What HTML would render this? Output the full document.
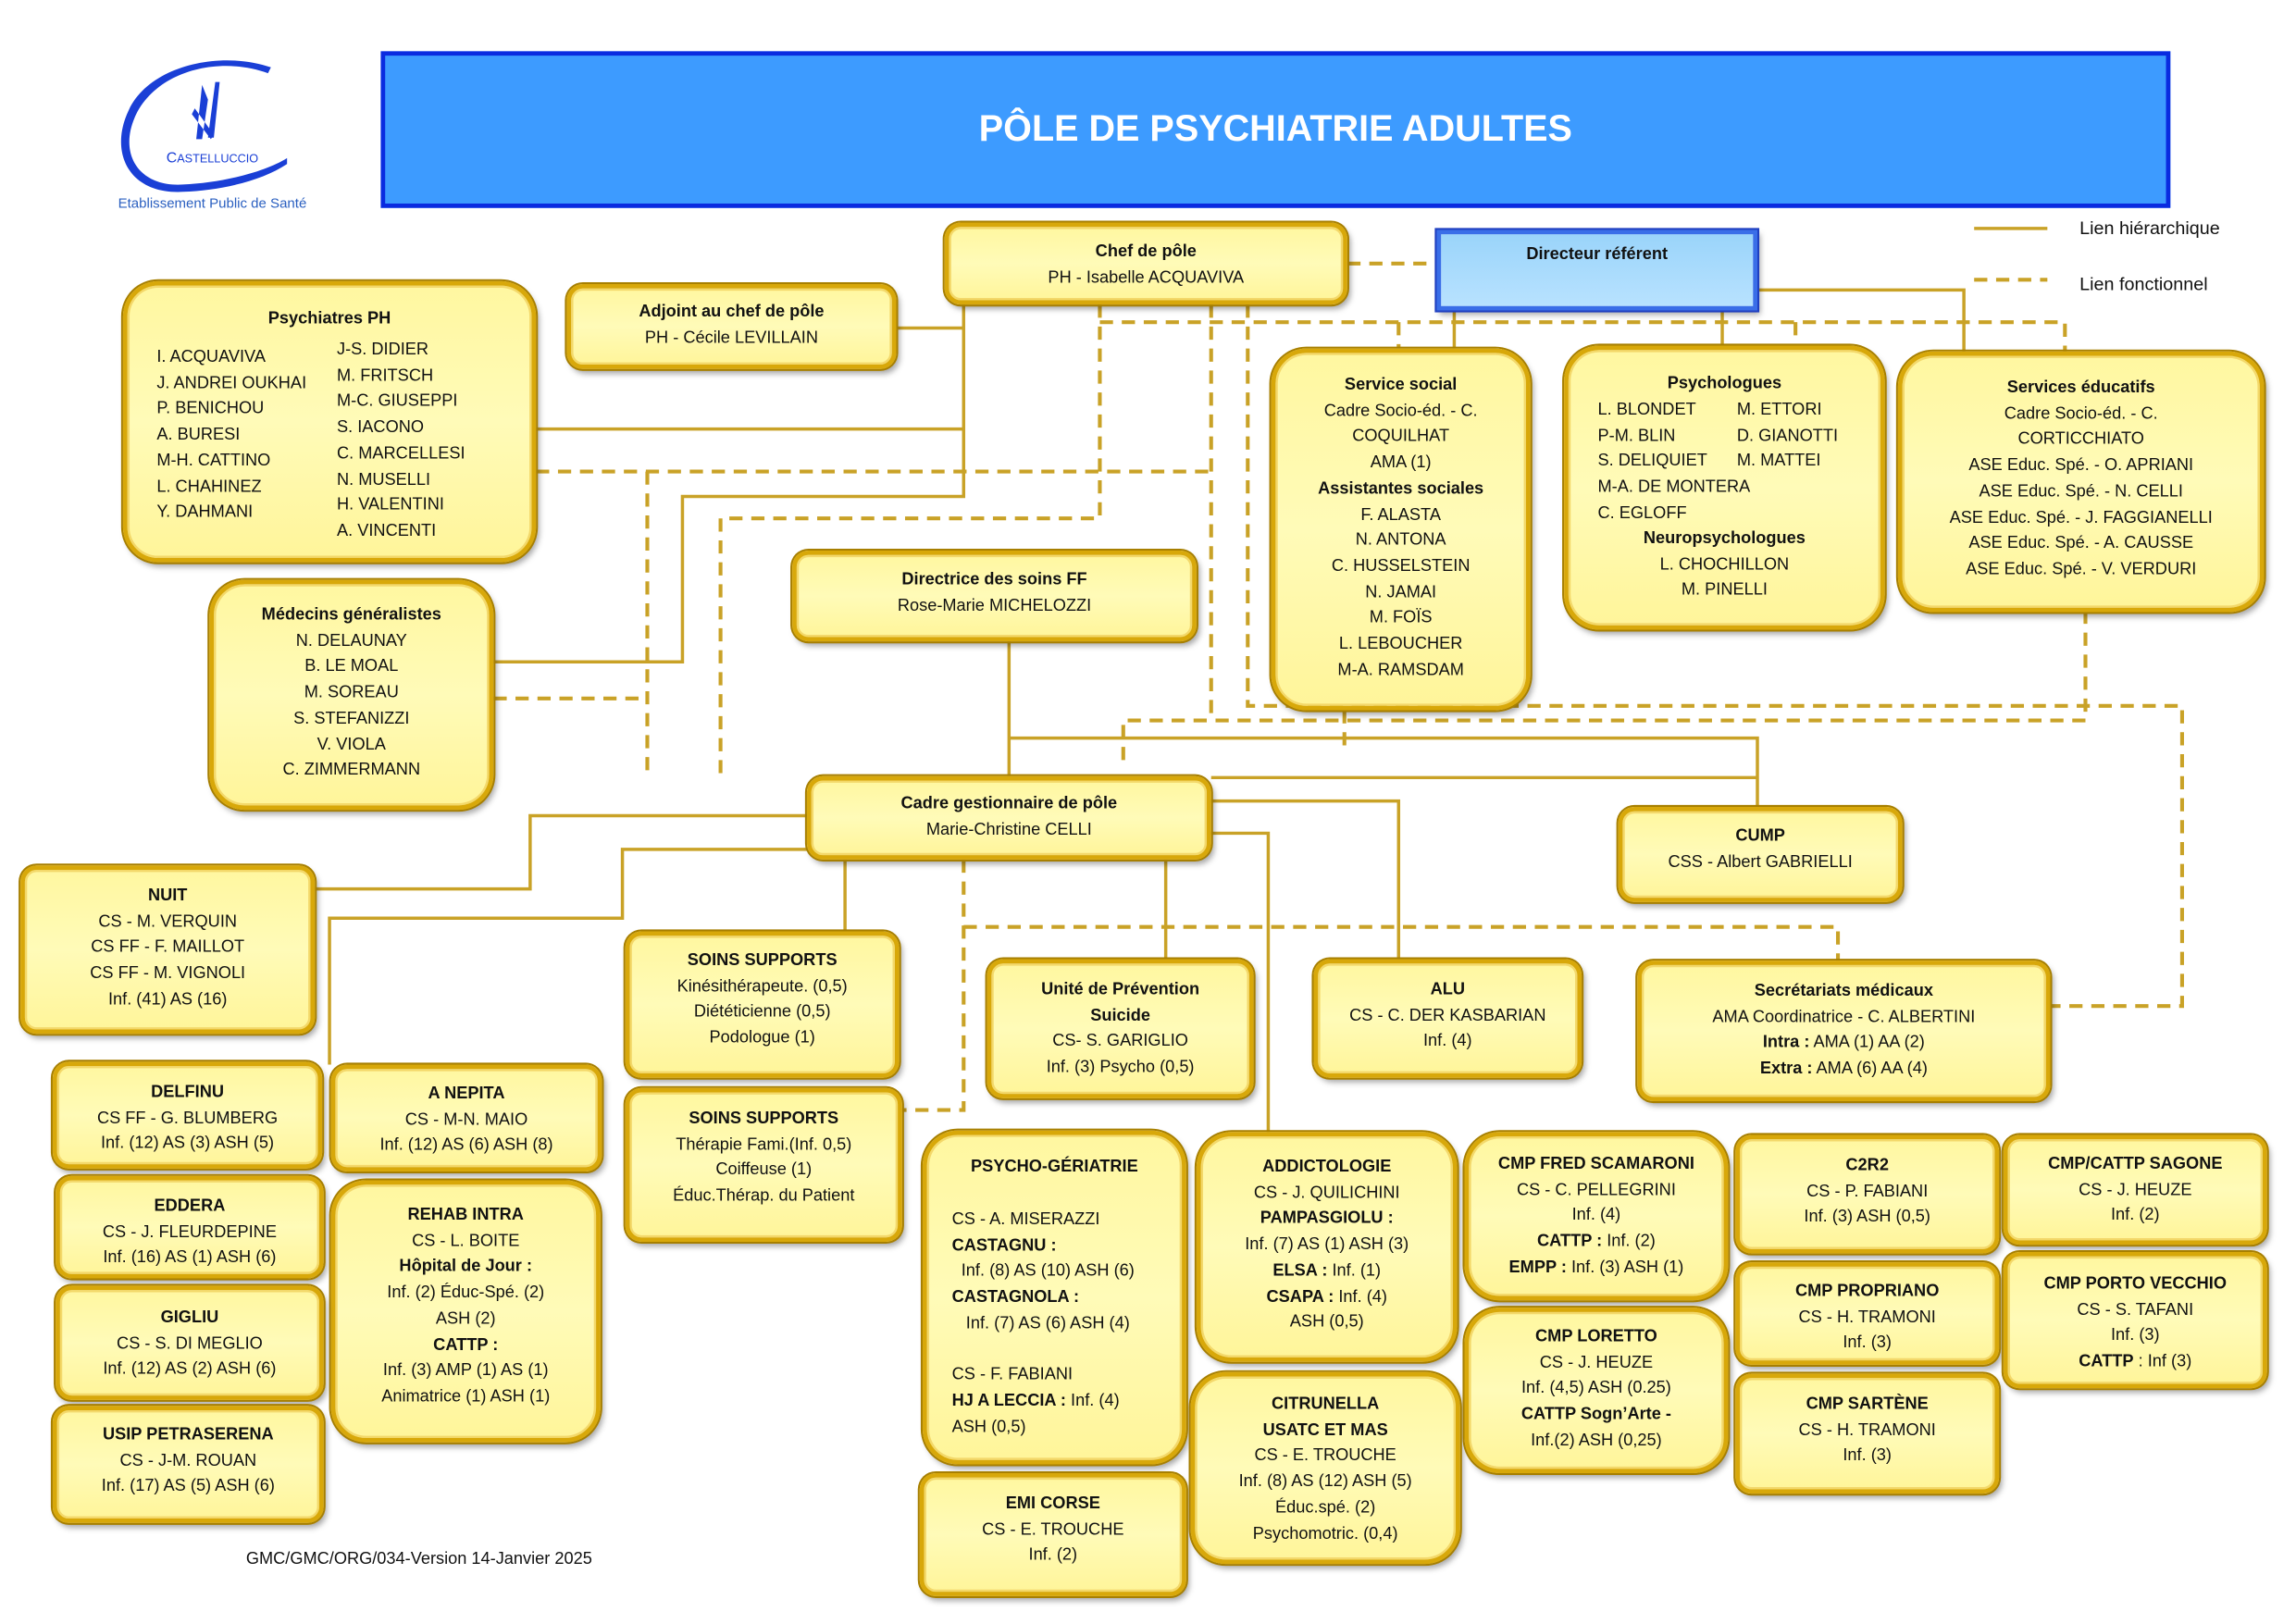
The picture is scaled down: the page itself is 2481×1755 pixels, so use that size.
<!DOCTYPE html>
<html><head><meta charset="utf-8"><style>
html,body{margin:0;padding:0;background:#fff;}
body{width:2481px;height:1755px;overflow:hidden;position:relative;}
#c{position:absolute;left:0;top:0;width:1560px;height:1103px;transform-origin:0 0;transform:scale(1.5825,1.5825);font-family:"Liberation Sans",sans-serif;font-size:11.5px;color:#111;}
.b{position:absolute;box-sizing:border-box;background:linear-gradient(#fff7a0,#fffbb8 50%,#fff59a);border:3px solid #d8a80a;box-shadow:0 0 0 1.3px #a77f00,inset 0 0 0 1.5px #f3d86a,2px 3px 4px rgba(0,0,0,.35);border-radius:11px;text-align:center;line-height:17.7px;white-space:nowrap;}
.r{border-radius:24px;}
.t{font-weight:bold;}
.l{text-align:left;}
svg{position:absolute;left:0;top:0;}
</style></head><body><div id="c">
<svg width="1560" height="1103" viewBox="0 0 1560 1103">
<g fill="none" stroke="#c9a227" stroke-width="2.2">
<path d="M658 208V339H466V452H337"/>
<path d="M612 224H658"/>
<path d="M366 293H658"/>
<path d="M993 212V238"/>
<path d="M1176 212V236"/>
<path d="M1200 198H1341V240"/>
<path d="M689 438V530"/>
<path d="M689 504H1200V551"/>
<path d="M827 531H1200"/>
<path d="M827 547H955V655"/>
<path d="M827 569H866V773"/>
<path d="M796 587V655"/>
<path d="M577 587V636"/>
<path d="M551 557H362V607H215"/>
<path d="M551 580H425V627H225V727"/>
<path d="M1348 156H1398"/>
</g>
<g fill="none" stroke="#c9a227" stroke-width="2.6" stroke-dasharray="9 6">
<path d="M920 180H981"/>
<path d="M366 322H827"/>
<path d="M827 208V492"/>
<path d="M767 519V492H1424V418"/>
<path d="M442 322V527"/>
<path d="M337 477H442"/>
<path d="M751 208V354H492V529"/>
<path d="M751 220H1410V240"/>
<path d="M955 220V238"/>
<path d="M1226 220V236"/>
<path d="M852 208V482H1490V687H1400"/>
<path d="M918 485V512"/>
<path d="M658 587V758H616"/>
<path d="M658 633H1255V656"/>
<path d="M1348 191H1398"/>
</g>
<path d="M183 50 C150 38 108 48 93 78 C80 105 95 128 125 126 C150 125 180 118 196 108 L196 112 C178 124 150 130 125 131 C88 133 74 104 88 75 C102 45 150 34 185 46 Z" fill="#1a3fd6"/>
<path d="M138 58 L134 95 L138 95 L142 68 Z M147 56 L150 56 L146 94 L142 94 Z M133 74 L146 92 L144 95 L131 78 Z" fill="#1a3fd6"/>
<text x="145" y="111" font-family="Liberation Sans,sans-serif" font-size="10" fill="#1a3fd6" text-anchor="middle">C<tspan font-size="8">ASTELLUCCIO</tspan></text>
<text x="145" y="142" font-family="Liberation Sans,sans-serif" font-size="9.5" fill="#2a5fc0" text-anchor="middle">Etablissement Public de Santé</text>
<text x="1420" y="160" font-family="Liberation Sans,sans-serif" font-size="12.5" fill="#111">Lien hiérarchique</text>
<text x="1420" y="198" font-family="Liberation Sans,sans-serif" font-size="12.5" fill="#111">Lien fonctionnel</text>
<text x="168" y="1068" font-family="Liberation Sans,sans-serif" font-size="11.5" fill="#111">GMC/GMC/ORG/034-Version 14-Janvier 2025</text>
</svg>

<div style="position:absolute;left:260px;top:35px;width:1222px;height:107px;box-sizing:border-box;background:#3d9bff;border:3px solid #0a2be0;color:#fff;font-weight:bold;font-size:25px;text-align:center;line-height:101px;">PÔLE DE PSYCHIATRIE ADULTES</div>

<div class="b" style="left:645px;top:152px;width:275px;height:56px;padding-top:9px"><span class="t">Chef de pôle</span><br>PH - Isabelle ACQUAVIVA</div>
<div class="b" style="left:981px;top:157px;width:219px;height:55px;padding-top:6px;border-radius:0;background:linear-gradient(#9ad4fa,#b8e2ff);border-color:#3a6ee8;box-shadow:0 0 0 1.3px #1f3fc0,2px 3px 4px rgba(0,0,0,.35)"><span class="t">Directeur référent</span></div>
<div class="b" style="left:387px;top:194px;width:225px;height:58px;padding-top:8px"><span class="t">Adjoint au chef de pôle</span><br>PH - Cécile LEVILLAIN</div>

<div class="b r" style="left:84px;top:192px;width:282px;height:192px;padding-top:15px"><span class="t">Psychiatres PH</span>
<div class="l" style="position:absolute;left:20px;top:41px">I. ACQUAVIVA<br>J. ANDREI OUKHAI<br>P. BENICHOU<br>A. BURESI<br>M-H. CATTINO<br>L. CHAHINEZ<br>Y. DAHMANI</div>
<div class="l" style="position:absolute;left:143px;top:36px">J-S. DIDIER<br>M. FRITSCH<br>M-C. GIUSEPPI<br>S. IACONO<br>C. MARCELLESI<br>N. MUSELLI<br>H. VALENTINI<br>A. VINCENTI</div></div>

<div class="b r" style="left:143px;top:396px;width:194px;height:157px;padding-top:13px"><span class="t">Médecins généralistes</span><br>N. DELAUNAY<br>B. LE MOAL<br>M. SOREAU<br>S. STEFANIZZI<br>V. VIOLA<br>C. ZIMMERMANN</div>

<div class="b" style="left:541px;top:376px;width:276px;height:62px;padding-top:9px"><span class="t">Directrice des soins FF</span><br>Rose-Marie MICHELOZZI</div>

<div class="b r" style="left:868px;top:238px;width:177px;height:247px;padding-top:14px"><span class="t">Service social</span><br>Cadre Socio-éd. - C.<br>COQUILHAT<br>AMA (1)<br><span class="t">Assistantes sociales</span><br>F. ALASTA<br>N. ANTONA<br>C. HUSSELSTEIN<br>N. JAMAI<br>M. FOÏS<br>L. LEBOUCHER<br>M-A. RAMSDAM</div>

<div class="b r" style="left:1068px;top:236px;width:219px;height:194px;padding-top:15px"><span class="t">Psychologues</span>
<div class="l" style="position:absolute;left:20px;top:33px">L. BLONDET<br>P-M. BLIN<br>S. DELIQUIET<br>M-A. DE MONTERA<br>C. EGLOFF</div>
<div class="l" style="position:absolute;left:115px;top:33px">M. ETTORI<br>D. GIANOTTI<br>M. MATTEI</div>
<div style="position:absolute;left:0;right:0;top:121px"><span class="t">Neuropsychologues</span><br>L. CHOCHILLON<br>M. PINELLI</div></div>

<div class="b r" style="left:1296px;top:240px;width:250px;height:178px;padding-top:14px"><span class="t">Services éducatifs</span><br>Cadre Socio-éd. - C.<br>CORTICCHIATO<br>ASE Educ. Spé. - O. APRIANI<br>ASE Educ. Spé. - N. CELLI<br>ASE Educ. Spé. - J. FAGGIANELLI<br>ASE Educ. Spé. - A. CAUSSE<br>ASE Educ. Spé. - V. VERDURI</div>

<div class="b" style="left:551px;top:530px;width:276px;height:57px;padding-top:8px"><span class="t">Cadre gestionnaire de pôle</span><br>Marie-Christine CELLI</div>
<div class="b" style="left:1105px;top:551px;width:194px;height:65px;padding-top:9px"><span class="t">CUMP</span><br>CSS - Albert GABRIELLI</div>

<div class="b" style="left:14px;top:591px;width:201px;height:115px;padding-top:10px"><span class="t">NUIT</span><br>CS - M. VERQUIN<br>CS FF - F. MAILLOT<br>CS FF - M. VIGNOLI<br>Inf. (41) AS (16)</div>
<div class="b" style="left:427px;top:636px;width:187px;height:100px;padding-top:9px"><span class="t">SOINS SUPPORTS</span><br>Kinésithérapeute. (0,5)<br>Diététicienne (0,5)<br>Podologue (1)</div>
<div class="b" style="left:674px;top:655px;width:182px;height:95px;padding-top:10px"><span class="t">Unité de Prévention<br>Suicide</span><br>CS- S. GARIGLIO<br>Inf. (3) Psycho (0,5)</div>
<div class="b" style="left:897px;top:655px;width:183px;height:81px;padding-top:10px"><span class="t">ALU</span><br>CS - C. DER KASBARIAN<br>Inf. (4)</div>
<div class="b" style="left:1118px;top:656px;width:282px;height:96px;padding-top:10px"><span class="t">Secrétariats médicaux</span><br>AMA Coordinatrice - C. ALBERTINI<br><span class="t">Intra :</span> AMA (1) AA (2)<br><span class="t">Extra :</span> AMA (6) AA (4)</div>

<div class="b" style="left:36px;top:725px;width:184px;height:73px;padding-top:10px"><span class="t">DELFINU</span><br>CS FF - G. BLUMBERG<br>Inf. (12) AS (3) ASH (5)</div>
<div class="b" style="left:226px;top:727px;width:185px;height:73px;padding-top:9px"><span class="t">A NEPITA</span><br>CS - M-N. MAIO<br>Inf. (12) AS (6) ASH (8)</div>
<div class="b" style="left:427px;top:743px;width:189px;height:105px;padding-top:10px"><span class="t">SOINS SUPPORTS</span><br>Thérapie Fami.(Inf. 0,5)<br>Coiffeuse (1)<br>Éduc.Thérap. du Patient</div>
<div class="b" style="left:38px;top:803px;width:183px;height:70px;padding-top:10px"><span class="t">EDDERA</span><br>CS - J. FLEURDEPINE<br>Inf. (16) AS (1) ASH (6)</div>
<div class="b r" style="left:226px;top:806px;width:184px;height:179px;padding-top:13px"><span class="t">REHAB INTRA</span><br>CS - L. BOITE<br><span class="t">Hôpital de Jour :</span><br>Inf. (2) Éduc-Spé. (2)<br>ASH (2)<br><span class="t">CATTP :</span><br>Inf. (3) AMP (1) AS (1)<br>Animatrice (1) ASH (1)</div>
<div class="b" style="left:38px;top:878px;width:183px;height:78px;padding-top:11px"><span class="t">GIGLIU</span><br>CS - S. DI MEGLIO<br>Inf. (12) AS (2) ASH (6)</div>
<div class="b" style="left:36px;top:960px;width:185px;height:80px;padding-top:9px"><span class="t">USIP PETRASERENA</span><br>CS - J-M. ROUAN<br>Inf. (17) AS (5) ASH (6)</div>

<div class="b r" style="left:630px;top:772px;width:180px;height:228px;padding-top:14px"><span class="t">PSYCHO-GÉRIATRIE</span>
<div class="l" style="position:absolute;left:17px;top:50px">CS - A. MISERAZZI<br><span class="t">CASTAGNU :</span><br>&nbsp;&nbsp;Inf. (8) AS (10) ASH (6)<br><span class="t">CASTAGNOLA :</span><br>&nbsp;&nbsp;&nbsp;Inf. (7) AS (6) ASH (4)<br>&nbsp;<br>CS - F. FABIANI<br><span class="t">HJ A LECCIA :</span> Inf. (4)<br>ASH (0,5)</div></div>
<div class="b" style="left:628px;top:1006px;width:182px;height:84px;padding-top:10px"><span class="t">EMI CORSE</span><br>CS - E. TROUCHE<br>Inf. (2)</div>
<div class="b r" style="left:817px;top:773px;width:178px;height:157px;padding-top:13px"><span class="t">ADDICTOLOGIE</span><br>CS - J. QUILICHINI<br><span class="t">PAMPASGIOLU :</span><br>Inf. (7) AS (1) ASH (3)<br><span class="t">ELSA :</span> Inf. (1)<br><span class="t">CSAPA :</span> Inf. (4)<br>ASH (0,5)</div>
<div class="b r" style="left:813px;top:937px;width:184px;height:131px;padding-top:11px"><span class="t">CITRUNELLA<br>USATC ET MAS</span><br>CS - E. TROUCHE<br>Inf. (8) AS (12) ASH (5)<br>Éduc.spé. (2)<br>Psychomotric. (0,4)</div>
<div class="b r" style="left:1000px;top:773px;width:180px;height:115px;padding-top:11px"><span class="t">CMP FRED SCAMARONI</span><br>CS - C. PELLEGRINI<br>Inf. (4)<br><span class="t">CATTP :</span> Inf. (2)<br><span class="t">EMPP :</span> Inf. (3) ASH (1)</div>
<div class="b r" style="left:1000px;top:893px;width:180px;height:113px;padding-top:9px"><span class="t">CMP LORETTO</span><br>CS - J. HEUZE<br>Inf. (4,5) ASH (0.25)<br><span class="t">CATTP Sogn’Arte -</span><br>Inf.(2) ASH (0,25)</div>
<div class="b" style="left:1185px;top:775px;width:180px;height:81px;padding-top:10px"><span class="t">C2R2</span><br>CS - P. FABIANI<br>Inf. (3) ASH (0,5)</div>
<div class="b" style="left:1185px;top:862px;width:180px;height:70px;padding-top:9px"><span class="t">CMP PROPRIANO</span><br>CS - H. TRAMONI<br>Inf. (3)</div>
<div class="b" style="left:1185px;top:938px;width:180px;height:82px;padding-top:10px"><span class="t">CMP SARTÈNE</span><br>CS - H. TRAMONI<br>Inf. (3)</div>
<div class="b" style="left:1368px;top:775px;width:180px;height:75px;padding-top:9px"><span class="t">CMP/CATTP SAGONE</span><br>CS - J. HEUZE<br>Inf. (2)</div>
<div class="b" style="left:1368px;top:855px;width:180px;height:93px;padding-top:11px"><span class="t">CMP PORTO VECCHIO</span><br>CS - S. TAFANI<br>Inf. (3)<br><span class="t">CATTP</span> : Inf (3)</div>
</div></body></html>
